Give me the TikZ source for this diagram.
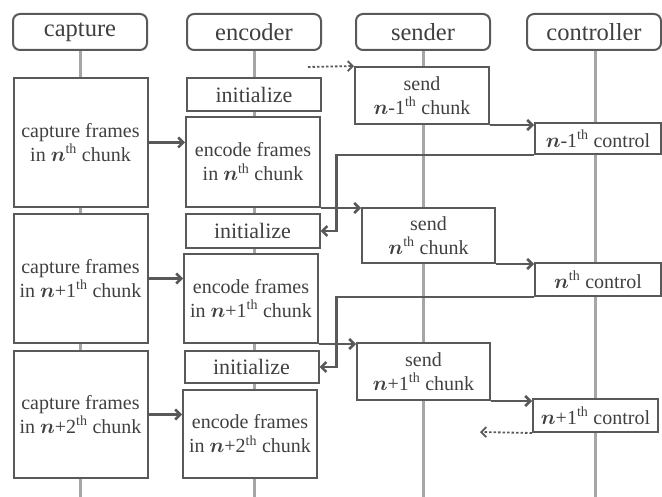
\documentclass[tikz,border=0pt]{standalone}
\usepackage{amsmath,bm}
\usepackage{fontspec}
\setmainfont{Liberation Serif}
\newfontfamily\timesfont{Liberation Serif}
\usetikzlibrary{arrows.meta,positioning,calc}
\definecolor{boxline}{HTML}{595959}
\definecolor{lifeline}{HTML}{A6A6A6}
\definecolor{txtgray}{HTML}{404040}
\newcommand{\chunkno}[1]{$\bm{n}$#1\textsuperscript{th}}
\begin{document}
\begin{tikzpicture}[x=1pt,y=-1pt,every node/.style={font=\timesfont\fontsize{20}{24}\selectfont,text=txtgray},
 hdr/.style={draw=boxline,line width=2pt,rounded corners=7pt,fill=white,minimum width=134pt,minimum height=36pt,inner sep=0pt,font=\timesfont\fontsize{24.5}{28}\selectfont},
 box/.style={draw=boxline,line width=2pt,fill=white,minimum width=134pt,inner sep=0pt,align=center},
 initbox/.style={box,font=\timesfont\fontsize{22}{26}\selectfont},
 life/.style={draw=lifeline,line width=3pt},
 arr/.style={-{Straight Barb[length=5pt,width=10pt]},draw=boxline,line width=2.5pt},
 dotarr/.style={arr,dotted,line width=1.8pt}]
\useasboundingbox (0,0) rectangle (662,497);
\node[hdr] (hcap) at (80,32) {capture};
\node[hdr] (henc) at (254,32) {encoder};
\node[hdr] (hsnd) at (423,32) {sender};
\node[hdr] (hctl) at (594,32) {controller};
\coordinate (bot) at (0,497);
\foreach \h in {hcap,henc,hsnd}{\draw[life] (\h.south) -- (\h.south |- bot);}
\draw[life] (hctl.south) ++(1pt,0) -- ++(0,460);
\node[box,minimum height=129pt] (cap1) at (80.5,142.5) {capture frames\\in \chunkno{} chunk};
\node[box,minimum height=129pt] (cap2) at (80.5,278.5) {capture frames\\in \chunkno{+1} chunk};
\node[box,minimum height=127pt] (cap3) at (80.5,414.5) {capture frames\\in \chunkno{+2} chunk};
\node[initbox,minimum height=33pt] (init1) at (254,94.5) {initialize};
\node[box,minimum height=90pt] (enc1) at (253,162) {encode frames\\in \chunkno{} chunk};
\node[initbox,minimum height=34pt] (init2) at (252.5,231) {initialize};
\node[box,minimum height=89pt] (enc2) at (251,298.5) {encode frames\\in \chunkno{+1} chunk};
\node[initbox,minimum height=32pt] (init3) at (251.5,367) {initialize};
\node[box,minimum height=88pt] (enc3) at (250,434) {encode frames\\in \chunkno{+2} chunk};
\node[box,minimum height=57pt] (snd1) at (422,95.5) {send\\\chunkno{-1} chunk};
\node[box,minimum height=55pt,minimum width=133pt] (snd2) at (428.5,235.5) {send\\\chunkno{} chunk};
\node[box,minimum height=57pt,minimum width=133pt] (snd3) at (423.5,371.5) {send\\\chunkno{+1} chunk};
\node[box,minimum height=31pt,minimum width=126pt] (ctl1) at (598,138.5) {\chunkno{-1} control};
\node[box,minimum height=33pt,minimum width=126pt] (ctl2) at (598,279.5) {\chunkno{} control};
\node[box,minimum height=33pt,minimum width=125pt] (ctl3) at (595.5,415.5) {\chunkno{+1} control};
\coordinate (sndin) at (308,67);
\coordinate (ctlout) at (480,432);
\draw[arr] (cap1.east) -- (cap1.east -| enc1.west);
\draw[arr] (cap2.east) -- (cap2.east -| enc2.west);
\draw[arr] (cap3.east) -- (cap3.east -| enc3.west);
\draw[dotarr] (sndin) -- (snd1.north west);
\draw[arr] (snd1.south east) -- (snd1.south east -| ctl1.west);
\draw[arr] (snd2.south east) -- (snd2.south east -| ctl2.west);
\draw[arr] (snd3.south east) -- (snd3.south east -| ctl3.west);
\draw[arr] (enc1.south east) -- (enc1.south east -| snd2.west);
\draw[arr] (enc2.south east) -- (enc2.south east -| snd3.west);
\draw[arr] (ctl1.south west) -| ([xshift=16pt]init2.east) -- (init2.east);
\draw[arr] (ctl2.south west) -| ([xshift=17pt]init3.east) -- (init3.east);
\draw[dotarr] (ctl3.south west) -- (ctlout);
\end{tikzpicture}
\end{document}
